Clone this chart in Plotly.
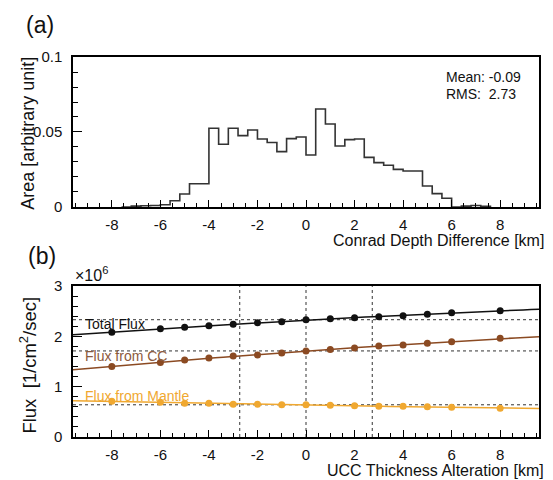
import numpy as np
import plotly.graph_objects as go
from plotly.subplots import make_subplots

# ---- (a) Conrad depth difference histogram ----
bin_lo = -7.6
bin_width = 0.4
area = [0.0, 0.0006, 0.0008, 0.0010, 0.0015, 0.0042, 0.0087, 0.0155, 0.0155,
        0.0525, 0.0418, 0.0525, 0.0476, 0.0513, 0.0453, 0.0430, 0.0369, 0.0456,
        0.0467, 0.0347, 0.0653, 0.0553, 0.0407, 0.0449, 0.0453, 0.0331, 0.0296,
        0.0278, 0.0251, 0.0240, 0.0240, 0.0140, 0.0089, 0.0058, 0.0, 0.0006,
        0.0010, 0.0004]
mean_txt = "-0.09"
rms = 2.73

# ---- (b) flux vs UCC thickness alteration (units of 1e6 /cm2/s) ----
ucc = [-8, -6, -5, -4, -3, -2, -1, 0, 1, 2, 3, 4, 5, 6, 8]
total_flux = [2.08, 2.15, 2.18, 2.21, 2.24, 2.27, 2.29, 2.33, 2.35, 2.37, 2.39,
              2.41, 2.44, 2.47, 2.51]
cc_flux = [1.40, 1.48, 1.53, 1.57, 1.61, 1.63, 1.67, 1.71, 1.74, 1.77, 1.81,
           1.83, 1.86, 1.89, 1.96]
mantle_flux = [0.71, 0.69, 0.67, 0.67, 0.65, 0.65, 0.64, 0.64, 0.63, 0.62,
               0.61, 0.61, 0.60, 0.59, 0.57]

# tick labels
x_ticks = [-8, -6, -4, -2, 0, 2, 4, 6, 8]
x_tick_text = ["-8", "-6", "-4", "-2", "0", "2", "4", "6", "8"]
area_ticks = [0, 0.05, 0.1]
area_tick_text = ["0", "0.05", "0.1"]
flux_ticks = [0, 1, 2, 3]
flux_tick_text = ["0", "1", "2", "3"]

XR = [-9.6, 9.6]
FONT = "Liberation Sans, Arial, Helvetica, sans-serif"
BLACK = "#111111"
BROWN = "#8B4A22"
ORANGE = "#F0A830"

fig = make_subplots(rows=2, cols=1, vertical_spacing=0.0)

# step outline of the histogram
edges = bin_lo + bin_width * np.arange(len(area) + 1)
hx = np.concatenate([[edges[0]], edges])
hy = np.concatenate([[0.0], area, [0.0]])
fig.add_trace(go.Scatter(x=hx, y=hy, mode="lines", line_shape="hv",
                         line=dict(color="#333333", width=1.6),
                         showlegend=False, hoverinfo="skip"), row=1, col=1)

# panel (b): reference lines, fit curves and points
xfit = np.linspace(XR[0], XR[1], 60)
i0 = ucc.index(0)
for xv in (-rms, 0.0, rms):
    fig.add_trace(go.Scatter(x=[xv, xv], y=[0, 3], mode="lines",
                             line=dict(color="#333333", width=1, dash="dot"),
                             showlegend=False, hoverinfo="skip"), row=2, col=1)
for vals, col in ((total_flux, BLACK), (cc_flux, BROWN), (mantle_flux, ORANGE)):
    fig.add_trace(go.Scatter(x=XR, y=[vals[i0], vals[i0]], mode="lines",
                             line=dict(color="#333333", width=1, dash="dot"),
                             showlegend=False, hoverinfo="skip"), row=2, col=1)
    coef = np.polyfit(ucc, vals, 2)
    fig.add_trace(go.Scatter(x=xfit, y=np.polyval(coef, xfit), mode="lines",
                             line=dict(color=col, width=1.5),
                             showlegend=False, hoverinfo="skip"), row=2, col=1)
    fig.add_trace(go.Scatter(x=ucc, y=vals, mode="markers",
                             marker=dict(color=col, size=7),
                             showlegend=False), row=2, col=1)

axis_common = dict(showline=True, mirror=True, linecolor="black", linewidth=1.5,
                   showgrid=False, zeroline=False, ticks="inside",
                   tickcolor="black", tickwidth=1,
                   tickfont=dict(family=FONT, size=15, color="#111111"))

fig.update_xaxes(**axis_common, range=XR, tickmode="array", tickvals=x_ticks,
                 ticktext=x_tick_text, ticklen=7,
                 minor=dict(dtick=0.5, tick0=0, ticklen=4, ticks="inside",
                            tickcolor="black"),
                 ticklabelstandoff=3)
fig.update_yaxes(**axis_common, ticklabelstandoff=6)
fig.update_yaxes(range=[0, 0.1], tickmode="array", tickvals=area_ticks,
                 ticktext=area_tick_text, ticklen=9,
                 minor=dict(dtick=0.01, tick0=0, ticklen=5, ticks="inside",
                            tickcolor="black"), row=1, col=1)
fig.update_yaxes(range=[0, 3], tickmode="array", tickvals=flux_ticks,
                 ticktext=flux_tick_text, ticklen=9,
                 minor=dict(dtick=0.2, tick0=0, ticklen=5, ticks="inside",
                            tickcolor="black"), row=2, col=1)

fig.update_layout(
    width=553, height=480,
    margin=dict(l=73, r=12, t=57, b=43),
    paper_bgcolor="white", plot_bgcolor="white",
    font=dict(family=FONT, color="#111111"),
    xaxis=dict(domain=[0, 1]), xaxis2=dict(domain=[0, 1]),
    yaxis=dict(domain=[0.6053, 1.0]), yaxis2=dict(domain=[0.0, 0.3974]),
)

def note(text, x, y, size, xanchor="center", yanchor="middle", angle=0,
         color="#111111", xref="paper", yref="paper"):
    fig.add_annotation(text=text, x=x, y=y, xref=xref, yref=yref,
                       xanchor=xanchor, yanchor=yanchor, textangle=angle,
                       showarrow=False, font=dict(family=FONT, size=size,
                                                  color=color))

note("(a)", -0.0705, 1.084, 23)
note("(b)", -0.067, 0.476, 23)
note("Area [arbitrary unit]", -0.097, 0.80, 18, angle=-90)
note("Flux\u00a0\u00a0[1/cm<sup>2</sup>/sec]", -0.097, 0.19, 18.5, angle=-90)
note("Conrad Depth Difference [km]", 1.015, 0.518, 16, xanchor="right")
note("UCC Thickness Alteration [km]", 1.015, -0.087, 16, xanchor="right")
note("\u00d710<sup>6</sup>", XR[0], 3.0, 16, xanchor="left", yanchor="bottom",
     xref="x2", yref="y2")
note("Mean: " + mean_txt, 0.796, 0.947, 14, xanchor="left")
note("RMS:\u00a0\u00a0%.2f" % rms, 0.796, 0.903, 14, xanchor="left")

# series labels inside panel (b)
note("Total Flux", -9.2, 2.25, 14, xanchor="left", color="#111111",
     xref="x2", yref="y2")
note("Flux from CC", -9.2, 1.60, 14, xanchor="left", color="#8B5A3C",
     xref="x2", yref="y2")
note("Flux from Mantle", -9.2, 0.81, 14, xanchor="left", color=ORANGE,
     xref="x2", yref="y2")

fig.write_html("out.html")
